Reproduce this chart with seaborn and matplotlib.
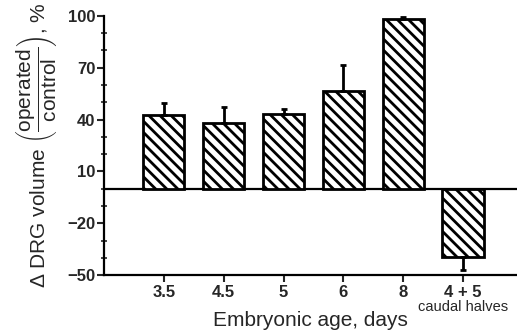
import numpy as np
import pandas as pd
import matplotlib
matplotlib.use("Agg")
import matplotlib.pyplot as plt
from matplotlib.ticker import MultipleLocator
import seaborn as sns

# values
ages = ["3.5", "4.5", "5", "6", "8", "4 + 5"]
volume_change = [42.8, 38.2, 43.0, 56.7, 98.0, -39.8]
sem = [7.0, 9.3, 3.0, 15.0, 1.5, 7.0]

sns.set_theme(style="white")
plt.rcParams["font.family"] = ["Liberation Sans", "DejaVu Sans"]
plt.rcParams["mathtext.fontset"] = "custom"
plt.rcParams["mathtext.rm"] = "Liberation Sans"
plt.rcParams["mathtext.it"] = "Liberation Sans:italic"
plt.rcParams["hatch.linewidth"] = 2.0

df = pd.DataFrame({"age": ages, "change": volume_change, "sem": sem})

fig = plt.figure(figsize=(5.17, 3.31), dpi=100)
ax = fig.add_axes([0.201, 0.169, 0.799, 0.783])

sns.barplot(data=df, x="age", y="change", order=ages, errorbar=None,
            color="white", saturation=1, edgecolor="black", linewidth=2,
            hatch="\\\\\\", width=0.69, ax=ax, zorder=3)

# one-sided error bars (away from zero)
lower = [s if v < 0 else 0 for v, s in zip(df["change"], df["sem"])]
upper = [s if v >= 0 else 0 for v, s in zip(df["change"], df["sem"])]
ax.errorbar(np.arange(len(ages)), df["change"], yerr=[lower, upper],
            fmt="none", ecolor="black", elinewidth=2, capsize=2.5, capthick=2,
            zorder=4)

ax.axhline(0, color="black", lw=1.6, zorder=2)

ax.set_xlim(-1.0, 5.9)
ax.set_ylim(-50, 100)
ax.set_yticks([-50, -20, 10, 40, 70, 100])
ax.yaxis.set_minor_locator(MultipleLocator(10))
ax.set_yticklabels(["\u221250", "\u221220", "10", "40", "70", "100"],
                   fontsize=12, fontweight="bold")
ax.set_xticks(range(len(ages)))
ax.set_xticklabels(ages, fontsize=12, fontweight="bold")
ax.tick_params(axis="y", which="major", direction="out", length=5, width=1.5,
               left=True, pad=1)
ax.tick_params(axis="y", which="minor", direction="inout", length=4, width=1.2,
               left=True)
ax.tick_params(axis="x", which="major", direction="out", length=5, width=1.5,
               bottom=True, pad=2)

for side in ["top", "right"]:
    ax.spines[side].set_visible(False)
for side in ["left", "bottom"]:
    ax.spines[side].set_color("black")
    ax.spines[side].set_linewidth(1.6)

ax.text(5, -0.125, "caudal halves", transform=ax.get_xaxis_transform(),
        ha="center", va="center", fontsize=10.5)

ax.set_xlabel("Embryonic age, days", fontsize=15)
ax.xaxis.set_label_coords(0.5, -0.14)
ax.set_ylabel(r"$\Delta$ DRG volume $\left(\dfrac{\mathrm{operated}}{\mathrm{control}}\right)$, %",
              fontsize=15, labelpad=6)

fig.savefig("out.png", dpi=100)
